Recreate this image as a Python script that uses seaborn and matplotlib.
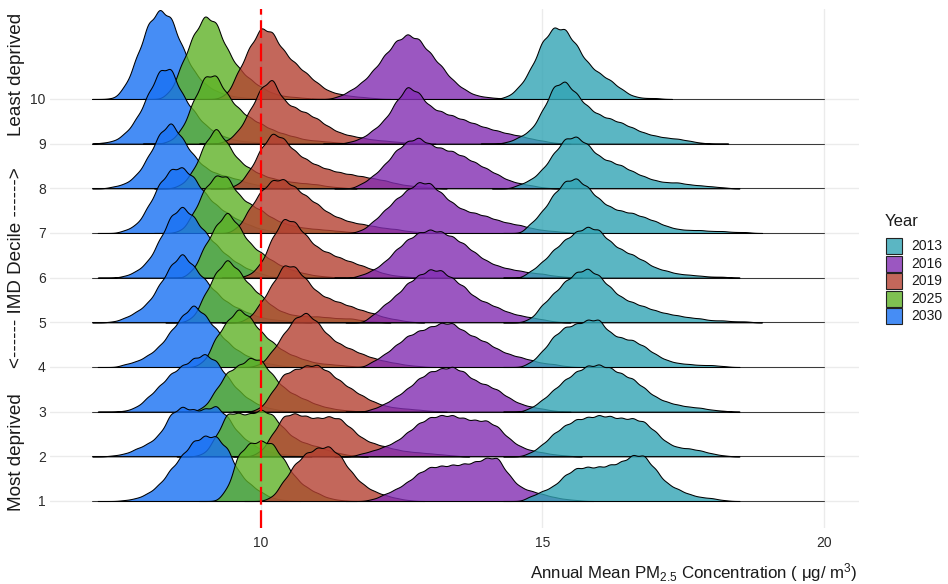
import numpy as np
import pandas as pd
import matplotlib
matplotlib.use("Agg")
import matplotlib.pyplot as plt
from matplotlib.patches import Rectangle
from matplotlib.colors import to_rgba
import seaborn as sns

# ---------------- data ----------------
years = ["2013", "2016", "2019", "2025", "2030"]
deciles = [1, 2, 3, 4, 5, 6, 7, 8, 9, 10]
x_ticks = [10, 15, 20]
x_range = [7.0, 20.0]
limit_value = 10
knot_step = 0.2          # spacing of the density knots below

# relative density heights on a 0.2-wide grid, one list per decile (1..10)
start_2013 = [14.6, 14.6, 14.6, 14.6, 14.6, 14.6, 14.6, 14.4, 14.2, 14.2]
dens_2013 = [
    [0, 5, 10, 15, 26, 33, 34, 34, 36, 39, 46, 46, 32, 18, 12, 7, 4, 3, 1],
    [0, 4, 12, 23, 31, 37, 39, 41, 40, 38, 38, 35, 25, 14, 9, 8, 6, 3, 1],
    [0, 4, 12, 22, 32, 40, 46, 47, 44, 38, 33, 24, 15, 10, 7, 5, 4, 2, 1],
    [0, 5, 16, 31, 40, 43, 47, 48, 34, 29, 27, 21, 13, 7, 4, 3, 2, 2, 1],
    [0, 4, 18, 29, 41, 50, 54, 47, 35, 25, 20, 16, 12, 9, 7, 5, 4, 2, 2, 1, 1],
    [0, 7, 16, 28, 38, 46, 51, 48, 36, 28, 23, 17, 10, 7, 4, 3, 2, 1, 1],
    [0, 10, 22, 39, 52, 55, 46, 34, 26, 22, 20, 16, 12, 7, 4, 3, 3, 2, 2, 1, 1],
    [0, 4, 9, 19, 35, 50, 52, 44, 32, 27, 23, 17, 12, 8, 6, 6, 4, 3, 2, 1],
    [0, 2, 7, 14, 33, 58, 63, 50, 37, 29, 25, 21, 16, 11, 8, 6, 5, 3, 1, 0],
    [0, 3, 13, 31, 58, 72, 70, 54, 36, 26, 19, 10, 3, 1, 1],
]

start_2016 = [11.8, 11.6, 11.8, 11.8, 11.8, 11.6, 11.6, 11.6, 11.4, 11.2]
dens_2016 = [
    [0, 2, 7, 12, 19, 28, 34, 35, 36, 37, 39, 43, 44, 26, 14, 10, 7, 4, 2, 1],
    [0, 3, 6, 10, 15, 24, 33, 39, 41, 41, 38, 36, 36, 30, 18, 10, 6, 4, 2, 1],
    [0, 3, 8, 15, 23, 33, 40, 43, 45, 40, 31, 27, 22, 14, 8, 5, 3, 1],
    [0, 6, 13, 22, 31, 36, 40, 44, 44, 36, 30, 25, 18, 13, 10, 7, 4, 3, 1],
    [0, 8, 18, 27, 39, 47, 53, 52, 44, 36, 25, 20, 15, 10, 7, 5, 3, 1],
    [0, 3, 8, 16, 28, 38, 45, 48, 46, 41, 34, 25, 17, 12, 9, 7, 5, 4, 2, 1],
    [0, 3, 12, 23, 34, 43, 51, 50, 40, 30, 23, 20, 17, 13, 10, 8, 5, 3, 2, 1],
    [0, 5, 13, 24, 38, 47, 51, 44, 40, 37, 32, 26, 20, 14, 8, 5, 3, 1],
    [0, 2, 6, 14, 24, 42, 58, 51, 37, 32, 28, 24, 20, 16, 13, 10, 8, 5, 3, 1],
    [0, 3, 9, 17, 29, 44, 58, 65, 60, 46, 33, 19, 10, 4, 2, 1],
]

start_2019 = [10.0, 9.8, 9.8, 9.8, 9.6, 9.6, 9.4, 9.4, 9.2, 9.2]
dens_2019 = [
    [0, 4, 20, 37, 48, 53, 55, 46, 29, 17, 10, 6, 3, 1],
    [0, 5, 22, 41, 43, 40, 38, 40, 38, 28, 18, 13, 10, 7, 5, 4, 3, 2, 1],
    [0, 4, 20, 38, 42, 46, 47, 40, 31, 23, 16, 10, 6, 4, 3, 2, 1],
    [0, 3, 16, 33, 49, 55, 45, 31, 23, 18, 13, 9, 6, 4, 2, 1],
    [0, 5, 20, 38, 58, 56, 43, 30, 24, 20, 16, 12, 9, 5, 3, 1],
    [0, 3, 14, 40, 60, 56, 42, 30, 25, 20, 16, 12, 8, 4, 2, 1],
    [0, 6, 25, 42, 53, 54, 46, 37, 29, 20, 15, 11, 9, 7, 5, 4, 2, 1],
    [0, 4, 18, 40, 56, 50, 37, 29, 23, 19, 16, 14, 12, 10, 8, 5, 3, 2, 1],
    [0, 3, 13, 33, 56, 66, 43, 36, 31, 25, 17, 11, 8, 6, 4, 3, 2, 1, 1],
    [0, 5, 28, 52, 72, 67, 48, 36, 26, 16, 8, 5, 3, 2, 1],
]

start_2025 = [9.2, 8.8, 8.8, 8.8, 8.6, 8.6, 8.4, 8.4, 8.2, 8.2]
dens_2025 = [
    [0, 12, 48, 58, 60, 58, 42, 24, 14, 8, 3, 1],
    [0, 3, 20, 44, 43, 42, 47, 42, 28, 18, 13, 10, 6, 3, 1],
    [0, 5, 22, 40, 46, 54, 52, 37, 24, 17, 12, 7, 4, 2, 1],
    [0, 6, 30, 46, 59, 50, 35, 25, 16, 11, 7, 4, 3, 2, 1],
    [0, 5, 28, 50, 64, 52, 37, 27, 16, 10, 7, 6, 6, 5, 4, 4, 2, 1],
    [0, 8, 32, 52, 67, 52, 34, 25, 17, 11, 7, 4, 2, 1],
    [0, 3, 20, 45, 58, 57, 38, 29, 23, 15, 10, 7, 5, 4, 3, 2, 1],
    [0, 4, 18, 45, 62, 45, 28, 20, 14, 10, 8, 6, 5, 4, 2, 1],
    [0, 3, 15, 43, 68, 69, 49, 35, 26, 20, 14, 10, 7, 4, 3, 2, 1],
    [0, 8, 36, 64, 84, 77, 49, 31, 20, 12, 6, 3, 2, 1],
]

start_2030 = [7.4, 7.2, 7.4, 7.4, 7.2, 7.4, 7.4, 7.2, 7.0, 7.2]
dens_2030 = [
    [0, 1, 3, 8, 17, 32, 46, 60, 65, 65, 53, 29, 17, 9, 3, 1],
    [0, 1, 3, 8, 13, 22, 43, 50, 46, 47, 51, 40, 23, 14, 7, 4, 2, 1],
    [0, 1, 5, 15, 26, 38, 46, 53, 58, 51, 35, 21, 12, 6, 3, 1],
    [0, 3, 6, 12, 21, 36, 51, 63, 52, 38, 25, 16, 10, 5, 3, 1],
    [0, 1, 5, 11, 20, 38, 57, 70, 56, 43, 30, 20, 14, 9, 5, 3, 2, 1],
    [0, 2, 7, 17, 38, 62, 72, 61, 46, 33, 22, 14, 8, 4, 1],
    [0, 3, 9, 27, 50, 64, 66, 56, 40, 28, 20, 13, 8, 4, 2, 1],
    [0, 2, 5, 14, 32, 55, 67, 50, 33, 21, 15, 12, 9, 5, 3, 1],
    [0, 1, 3, 11, 26, 50, 74, 76, 49, 33, 19, 11, 6, 3, 2, 1],
    [0, 1, 14, 43, 76, 90, 82, 52, 28, 15, 8, 4, 2, 1],
]

year_colors = ["#32A4B4", "#822DB2", "#B54132", "#5FB227", "#1871F3"]

# ---------------- assemble long table ----------------
starts = {"2013": start_2013, "2016": start_2016, "2019": start_2019,
          "2025": start_2025, "2030": start_2030}
dens = {"2013": dens_2013, "2016": dens_2016, "2019": dens_2019,
        "2025": dens_2025, "2030": dens_2030}
rows = []
for yr in years:
    for i, d in enumerate(deciles):
        h = dens[yr][i]
        xs = starts[yr][i] + knot_step * np.arange(len(h))
        for xv, hv in zip(xs, h):
            rows.append((d, yr, float(xv), float(hv)))
df = pd.DataFrame(rows, columns=["decile", "Year", "x", "w"])
palette = dict(zip(years, year_colors))

# ---------------- style ----------------
sns.set_theme(style="white")
plt.rcParams["font.family"] = ["Liberation Sans", "DejaVu Sans"]
plt.rcParams["mathtext.fontset"] = "custom"
plt.rcParams["mathtext.rm"] = "Liberation Sans"
plt.rcParams["mathtext.it"] = "Liberation Sans:italic"

W, H = 948, 584
fig = plt.figure(figsize=(W / 100, H / 100), dpi=100)
fig.patch.set_facecolor("white")

# panel geometry (pixels)
PL, PR, PT, PB = 50, 859, 9, 528
x10_px, px_per_unit = 261.0, 56.3
base1_px, row_px = 501.0, 44.67
rect = [PL / W, (H - PB) / H, (PR - PL) / W, (PB - PT) / H]
xlim = (10 + (PL - x10_px) / px_per_unit, 10 + (PR - x10_px) / px_per_unit)
Y0 = 1 - (PB - base1_px) / row_px
Y1 = 1 + (base1_px - PT) / row_px

# background axes: grid, ticks
bg = fig.add_axes(rect)
bg.set_xlim(xlim)
bg.set_ylim(Y0, Y1)
bg.set_xticks(x_ticks)
bg.set_xticklabels([str(t) for t in x_ticks])
bg.set_yticks(deciles)
bg.set_yticklabels([str(d) for d in deciles])
bg.grid(True, color="#EBEBEB", linewidth=1.0)
for s in bg.spines.values():
    s.set_visible(False)
bg.tick_params(axis="both", length=0, labelsize=10, colors="#2B2B2B")
bg.tick_params(axis="x", pad=6)
bg.tick_params(axis="y", pad=3)
bg.set_xlabel("")
bg.set_ylabel("")


def bw_fixed(kde):
    sd = float(np.sqrt(np.cov(kde.dataset, aweights=kde.weights)))
    return 0.10 / sd


P = PB - PT
for d in reversed(deciles):
    ax = fig.add_axes(rect)
    ax.patch.set_alpha(0)
    sub = df[df["decile"] == d]
    S = sub["w"].sum()
    sns.kdeplot(data=sub, x="x", weights="w", hue="Year", hue_order=years,
                palette=palette, fill=True, common_norm=True, alpha=0.8,
                linewidth=0.75, edgecolor="black", bw_method=bw_fixed,
                gridsize=400, clip=x_range, legend=False, ax=ax)
    ax.plot(x_range, [0, 0], color="black", linewidth=0.75, alpha=0.75)
    span = P / (S * knot_step)
    b = PB - (base1_px - (d - 1) * row_px)
    lo = -b / P * span
    ax.set_xlim(xlim)
    ax.set_ylim(lo, lo + span)
    ax.set_axis_off()

# red dashed reference line on top
top = fig.add_axes(rect)
top.patch.set_alpha(0)
top.set_xlim(xlim)
top.set_ylim(Y0, Y1)
top.axvline(limit_value, color="#FF0000", linewidth=1.6, linestyle=(0, (8, 2.5)))
top.set_axis_off()

# axis titles
fig.text(858 / W, (H - 573) / H,
         r"Annual Mean PM$_{\mathregular{2.5}}$ Concentration ( μg/ m$^{\mathregular{3}}$)",
         ha="right", va="center", fontsize=12.2, color="#1A1A1A")
for label, yc in [("Least deprived", 74), ("<------ IMD Decile ------>", 268),
                  ("Most deprived", 452)]:
    fig.text(17 / W, (H - yc) / H, label, rotation=90, ha="center",
             va="center", fontsize=13.6, color="#1A1A1A")

# legend
fig.text(885 / W, (H - 222) / H, "Year", ha="left", va="center",
         fontsize=12, color="#1A1A1A")
for i, yr in enumerate(years):
    yc = 246 + 17.6 * i
    fig.add_artist(Rectangle((886 / W, (H - yc - 8) / H), 16 / W, 16 / H,
                             transform=fig.transFigure,
                             facecolor=to_rgba(palette[yr], 0.8),
                             edgecolor="#222222", linewidth=0.8))
    fig.text(911 / W, (H - yc) / H, yr, ha="left", va="center",
             fontsize=10, color="#1A1A1A")

fig.savefig("out.png", dpi=100)
